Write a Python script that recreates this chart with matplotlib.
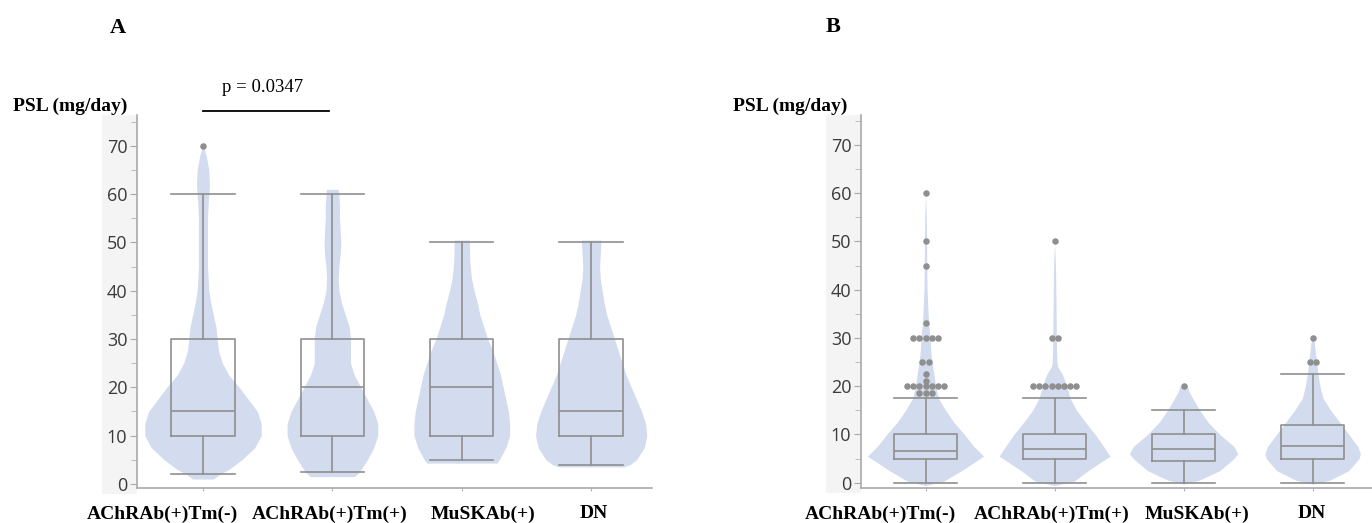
import numpy as np
import matplotlib.pyplot as plt
from matplotlib.patches import Rectangle

groups = ["AChRAb(+)Tm(-)", "AChRAb(+)Tm(+)", "MuSKAb(+)", "DN"]

# panel A box stats
a_low = [2, 2.5, 5, 4]
a_q1 = [10, 10, 10, 10]
a_med = [15, 20, 20, 15]
a_q3 = [30, 30, 30, 30]
a_high = [60, 60, 50, 50]
# outliers: (group, value, count)
a_out = [(0, 70, 1)]

# panel B box stats
b_low = [0, 0, 0, 0]
b_q1 = [5, 5, 4.5, 5]
b_med = [6.5, 7, 7, 7.5]
b_q3 = [10, 10, 10, 12]
b_high = [17.5, 17.5, 15, 22.5]
b_out = [(0, 18.5, 3), (0, 20, 7), (0, 21, 1), (0, 22.5, 1), (0, 25, 2),
         (0, 30, 5), (0, 33, 1), (0, 45, 1), (0, 50, 1), (0, 60, 1),
         (1, 20, 8), (1, 30, 2), (1, 50, 1),
         (2, 20, 1),
         (3, 25, 2), (3, 30, 1)]

# violin outlines: y level and half width
a_vy = [
    [1.0, 2, 3, 5, 7.5, 10, 12.5, 15, 17.5, 20, 22.5, 25, 27.5, 30, 32.5, 35, 37.5, 40, 45, 50, 55, 58, 62, 65, 68, 70],
    [1.5, 2.5, 5, 7.5, 10, 12.5, 15, 17.5, 20, 22.5, 25, 27.5, 30, 32.5, 35, 37.5, 40, 42.5, 45, 47.5, 50, 52.5, 55, 57.5, 60, 61],
    [4.3, 5, 7.5, 10, 12.5, 15, 17.5, 20, 22.5, 25, 27.5, 30, 32.5, 35, 37.5, 40, 42.5, 45, 47.5, 50, 50.5],
    [3.5, 4, 5, 7.5, 10, 12.5, 15, 17.5, 20, 22.5, 25, 27.5, 30, 32.5, 35, 37.5, 40, 42.5, 45, 47.5, 50, 50.5],
]
a_vw = [
    [0.08, 0.13, 0.2, 0.3, 0.4, 0.45, 0.45, 0.42, 0.35, 0.28, 0.2, 0.15, 0.12, 0.11, 0.1, 0.08, 0.06, 0.045, 0.035, 0.035, 0.035, 0.04, 0.05, 0.045, 0.025, 0.0],
    [0.17, 0.21, 0.27, 0.32, 0.35, 0.35, 0.32, 0.27, 0.22, 0.17, 0.14, 0.14, 0.14, 0.13, 0.1, 0.07, 0.05, 0.045, 0.05, 0.06, 0.065, 0.06, 0.055, 0.055, 0.05, 0.045],
    [0.27, 0.29, 0.34, 0.37, 0.37, 0.36, 0.34, 0.32, 0.3, 0.27, 0.24, 0.2, 0.17, 0.14, 0.12, 0.095, 0.075, 0.065, 0.06, 0.06, 0.06],
    [0.25, 0.3, 0.35, 0.41, 0.43, 0.42, 0.39, 0.35, 0.31, 0.27, 0.24, 0.21, 0.18, 0.15, 0.12, 0.1, 0.085, 0.07, 0.065, 0.07, 0.075, 0.075],
]
b_vy = [
    [-0.6, 0.3, 2.5, 5.5, 7.5, 10, 12.5, 15, 17.5, 20, 22.5, 25, 27.5, 30, 33, 35, 40, 45, 50, 55, 60],
    [-0.6, 0.3, 2.5, 5.5, 7.5, 10, 12.5, 15, 17.5, 20, 22.5, 24, 25, 27.5, 30, 35, 40, 45, 50],
    [-0.3, 0.5, 2.5, 5, 6, 7.5, 10, 12.5, 15, 17.5, 19, 20, 20.3],
    [-0.3, 0.5, 2.5, 5, 6, 7.5, 10, 12.5, 15, 17.5, 20, 22.5, 25, 27.5, 29, 30],
]
b_vw = [
    [0.0, 0.14, 0.28, 0.45, 0.375, 0.3, 0.22, 0.155, 0.1, 0.078, 0.065, 0.05, 0.04, 0.035, 0.025, 0.02, 0.012, 0.01, 0.008, 0.006, 0.0],
    [0.0, 0.15, 0.26, 0.43, 0.38, 0.315, 0.24, 0.17, 0.12, 0.095, 0.06, 0.025, 0.018, 0.015, 0.014, 0.012, 0.01, 0.007, 0.0],
    [0.0, 0.12, 0.28, 0.39, 0.42, 0.39, 0.28, 0.19, 0.125, 0.07, 0.04, 0.03, 0.0],
    [0.0, 0.13, 0.28, 0.36, 0.37, 0.35, 0.28, 0.21, 0.14, 0.08, 0.057, 0.041, 0.03, 0.02, 0.013, 0.0],
]

violet = "#d3dbee"
gray = "#8f8f8f"
serif = "Liberation Serif"

W, H = 1372, 523
fig = plt.figure(figsize=(W / 100, H / 100), dpi=100)


def panel(ax, low, q1, med, q3, high, vy, vw, outs, xlim, ylim):
    pos = np.arange(len(groups))
    for i in pos:
        y = np.array(vy[i])
        w = np.array(vw[i])
        ax.fill_betweenx(y, i - w, i + w, color=violet, lw=0, zorder=1)
    stats = []
    for i in pos:
        stats.append(dict(whislo=low[i], q1=q1[i], med=med[i], q3=q3[i], whishi=high[i]))
    lp = dict(color=gray, lw=1.2)
    ax.bxp(stats, positions=pos, widths=0.49, capwidths=0.49, showfliers=False,
           boxprops=lp, whiskerprops=lp, capprops=lp, medianprops=lp,
           manage_ticks=False, zorder=2)
    step = 0.047
    for g, v, n in outs:
        xs = g + (np.arange(n) - (n - 1) / 2) * step
        ax.scatter(xs, [v] * n, s=22, color=gray, lw=0, zorder=3, clip_on=False)
    ax.set_xlim(*xlim)
    ax.set_ylim(*ylim)
    ax.set_yticks(np.arange(0, 71, 10))
    ax.set_yticks(np.arange(5, 76, 10), minor=True)
    ax.set_xticks(pos)
    ax.set_xticklabels([])
    for s in ["top", "right"]:
        ax.spines[s].set_visible(False)
    for s in ["left", "bottom"]:
        ax.spines[s].set_color("#a9a9a9")
        ax.spines[s].set_linewidth(1.2)
    ax.tick_params(axis="y", which="major", length=5, color="#a9a9a9", labelsize=13,
                   labelcolor="#3a3a3a", pad=2)
    ax.tick_params(axis="y", which="minor", length=4, color="#b5b5b5")
    ax.tick_params(axis="x", length=2, color="#b5b5b5")
    for t in ax.get_yticklabels():
        t.set_fontfamily("Open Sans")
    # light band behind tick labels
    ax.add_patch(Rectangle((-35 / 515, -0.015), 35 / 515, 1.015, transform=ax.transAxes,
                           facecolor="#f4f4f4", edgecolor="none", clip_on=False, zorder=0))


axA = fig.add_axes([137 / W, (H - 488) / H, (652 - 137) / W, (488 - 115) / H])
panel(axA, a_low, a_q1, a_med, a_q3, a_high, a_vy, a_vw, a_out, (-0.51, 3.47), (-0.85, 76.4))

axB = fig.add_axes([861 / W, (H - 487.5) / H, (W - 861) / W, (487.5 - 115) / H])
panel(axB, b_low, b_q1, b_med, b_q3, b_high, b_vy, b_vw, b_out, (-0.5, 3.46), (-1.0, 76.2))

# significance bar in panel A
axA.plot([0, 0.975], [77.2, 77.2], color="black", lw=1.3, clip_on=False)
axA.text(0.46, 82, "p = 0.0347", ha="center", va="center", fontsize=13.5, family=serif)

# panel letters and axis titles
fig.text(118 / W, 1 - 28 / H, "A", ha="center", va="center", fontsize=16, fontweight="bold", family=serif)
fig.text(833 / W, 1 - 27 / H, "B", ha="center", va="center", fontsize=16, fontweight="bold", family=serif)
fig.text(70 / W, 1 - 106 / H, "PSL (mg/day)", ha="center", va="center", fontsize=14, fontweight="bold", family=serif)
fig.text(790 / W, 1 - 106 / H, "PSL (mg/day)", ha="center", va="center", fontsize=14, fontweight="bold", family=serif)

# group labels sit a little off the box centres in the original
a_lab_x = [162, 330, 483, 594]
b_lab_x = [880, 1052, 1197, 1312]
for lx, name in zip(a_lab_x + b_lab_x, groups + groups):
    fig.text(lx / W, 1 - 514 / H, name, ha="center", va="center", fontsize=14,
             fontweight="bold", family=serif)

fig.savefig("out.png", dpi=100)
